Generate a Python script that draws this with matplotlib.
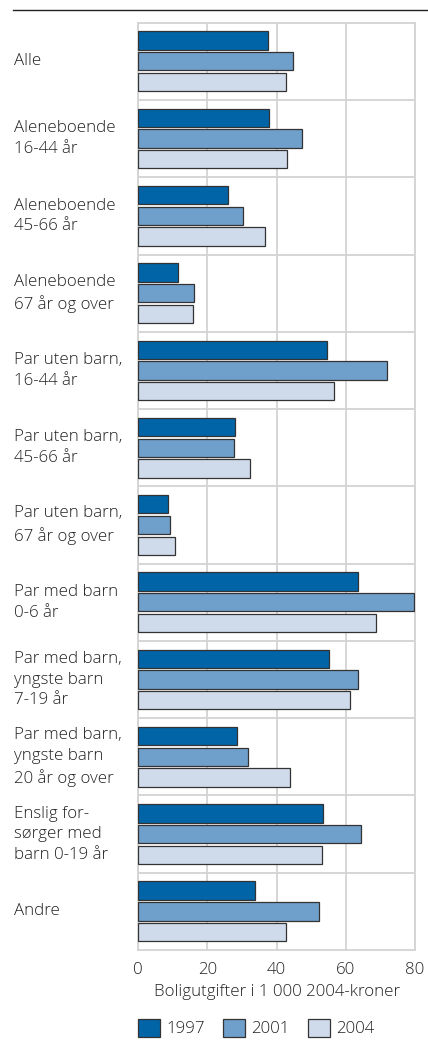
import matplotlib
matplotlib.use("Agg")
import matplotlib.pyplot as plt
import matplotlib.transforms as mtransforms
import numpy as np
from matplotlib.patches import Patch
from matplotlib.lines import Line2D

categories = [
    "Alle",
    "Aleneboende\n16-44 år",
    "Aleneboende\n45-66 år",
    "Aleneboende\n67 år og over",
    "Par uten barn,\n16-44 år",
    "Par uten barn,\n45-66 år",
    "Par uten barn,\n67 år og over",
    "Par med barn\n0-6 år",
    "Par med barn,\nyngste barn\n7-19 år",
    "Par med barn,\nyngste barn\n20 år og over",
    "Enslig for-\nsørger med\nbarn 0-19 år",
    "Andre",
]
years = ["1997", "2001", "2004"]
v1997 = [37.6, 37.8, 26.0, 11.6, 54.5, 28.1, 8.6, 63.6, 55.2, 28.6, 53.5, 33.8]
v2001 = [44.6, 47.2, 30.2, 16.2, 71.8, 27.8, 9.3, 79.6, 63.4, 31.6, 64.5, 52.3]
v2004 = [42.6, 42.9, 36.5, 15.7, 56.5, 32.4, 10.6, 68.7, 61.3, 43.8, 53.0, 42.8]
xticks = [0, 20, 40, 60, 80]
xlabel = "Boligutgifter i 1 000 2004-kroner"

colors = ["#0064a7", "#6f9fcb", "#cfdaea"]
edge = "#333333"
grid_c = "#d3d3d3"
txt_c = "#222222"

plt.rcParams["font.family"] = ["Open Sans", "DejaVu Sans"]
plt.rcParams["font.weight"] = "light"
plt.rcParams["axes.labelweight"] = "light"
fs = 12.2

fig = plt.figure(figsize=(4.28, 10.41), dpi=100)
ax = fig.add_axes([138.3 / 428, 1 - 950 / 1041, (415 - 138.3) / 428, (950 - 22.7) / 1041])

n = len(categories)
y = np.arange(n)
step = 0.268
h = 0.237
for k, (vals, c) in enumerate(zip([v1997, v2001, v2004], colors)):
    ax.barh(y + (k - 1) * step, vals, height=h, color=c, edgecolor=edge,
            linewidth=0.9, zorder=3)

ax.set_xlim(0, 80)
ax.set_ylim(n - 0.5, -0.5)
ax.set_xticks(xticks)
ax.set_xticklabels([str(t) for t in xticks], fontsize=fs, color=txt_c, fontweight="light")
ax.set_yticks([])
ax.set_yticks(np.arange(n - 1) + 0.5, minor=True)
ax.tick_params(axis="x", length=0, pad=9)
ax.tick_params(axis="y", which="both", length=0)
ax.grid(axis="x", color=grid_c, linewidth=1.3, zorder=0)
ax.grid(axis="y", which="minor", color=grid_c, linewidth=1.3, zorder=0)
for s in ax.spines.values():
    s.set_color(grid_c)
    s.set_linewidth(1.3)
ax.set_xlabel(xlabel, fontsize=fs, color=txt_c, labelpad=4, fontweight="light")

trans = mtransforms.blended_transform_factory(fig.transFigure, ax.transData)
for i, cat in enumerate(categories):
    ax.text(14 / 428, i, cat, transform=trans, ha="left", va="center",
            fontsize=fs, color=txt_c, linespacing=1.38, fontweight="light")

# top rule
fig.add_artist(Line2D([13.5 / 428, 1.0], [1 - 9.5 / 1041, 1 - 9.5 / 1041],
                      transform=fig.transFigure, color="#222222", linewidth=1.0))

handles = [Patch(facecolor=c, edgecolor=edge, linewidth=0.9) for c in colors]
fig.legend(handles, years, loc="center left", bbox_to_anchor=(138 / 428, 1 - 1028 / 1041),
           ncol=3, frameon=False, handlelength=1.3, handleheight=1.3,
           handletextpad=0.35, columnspacing=1.1, borderaxespad=0, borderpad=0,
           labelcolor=txt_c, prop={"size": fs, "weight": "light"})

fig.savefig("out.png", dpi=100)
